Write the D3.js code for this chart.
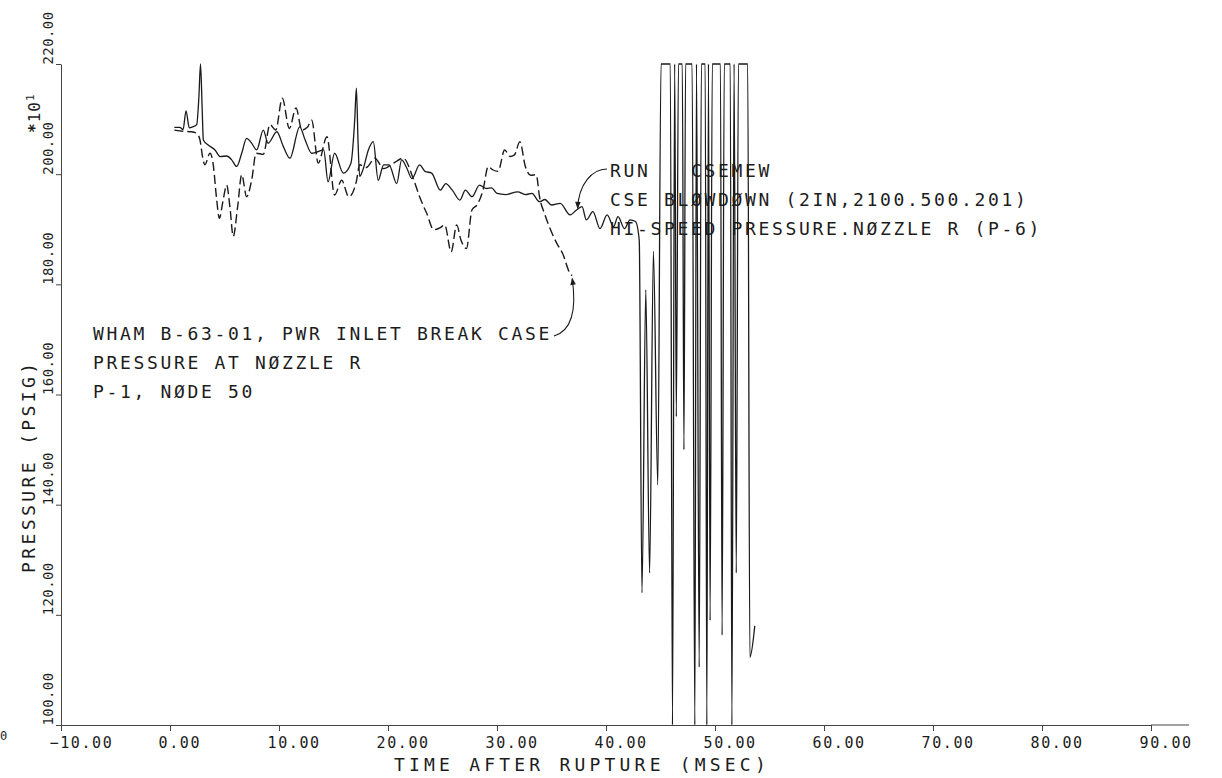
<!DOCTYPE html>
<html>
<head>
<meta charset="utf-8">
<script src="https://cdn.jsdelivr.net/npm/d3@7"></script>
<style>
  html, body { margin: 0; padding: 0; background: #fff; }
  svg { display: block; }
  text { font-family: "DejaVu Sans Mono", monospace; fill: #1c1c1c; white-space: pre; }
</style>
</head>
<body>
<svg id="chart" width="1222" height="778"></svg>
<script>
// Axis ticks (time in msec, pressure in psig x10)
const xTicks = [-10, 0, 10, 20, 30, 40, 50, 60, 70, 80, 90];
const yTicks = [100, 120, 140, 160, 180, 200, 220];

// CSE blowdown run (solid): smooth part, then the unstable oscillation
const cseTime = [
  0.4, 0.9, 1.2, 1.47, 1.77, 2.1, 2.45, 2.65, 2.8, 2.95, 3.06, 3.5, 4.13, 4.6, 5.2,
  5.66, 6.12, 6.58, 7.03, 7.5, 7.95, 8.56, 9.0, 9.8, 10.4, 11.0, 11.9, 12.4, 13.0,
  13.45, 14.1, 14.5, 15.1, 15.9, 16.6, 16.95, 17.1, 17.25, 17.4, 17.7, 18.2, 18.65,
  19.1, 19.6, 20.1, 20.8, 21.25, 21.7, 22.2, 22.9, 23.4, 24.0, 24.8, 25.3, 25.9,
  26.6, 27.1, 27.7, 28.4, 29.0, 29.5, 30.0, 30.8, 31.9, 32.6, 33.2, 33.9, 34.4,
  35.0, 35.8, 36.7, 37.3, 37.8, 38.2, 38.8, 39.45, 40.1, 40.7, 41.1, 41.7, 42.2,
  42.7, 43.05, 43.3, 43.65, 44.0, 44.35, 44.75, 45.05, 45.6, 45.9, 46.1, 46.3, 46.45,
  46.65, 47.0, 47.15, 47.3, 47.9, 48.15, 48.3, 48.55, 48.75, 49.1, 49.25, 49.4,
  49.55, 49.75, 50.5, 50.65, 50.85, 51.4, 51.55, 51.75, 51.95, 52.15, 53.0, 53.2, 53.65
];
const csePressure = [
  208.5, 208.5, 208.1, 211.5, 208.4, 208.6, 209, 214, 220, 212, 206.2, 205.3, 204.4, 203.2, 203.3,
  202.6, 201.4, 203.8, 206.5, 205.6, 204.4, 208, 205.6, 207.7, 205, 202.9, 208.6, 206.2, 203.8,
  204, 204.4, 198.6, 203.8, 200.2, 202, 210, 215.6, 206, 199.6, 200.8, 204.4, 205.9,
  198.9, 201.7, 201.7, 198.3, 202.6, 201.2, 199.2, 201.7, 200.5, 200.2, 197.1, 198.3, 197.1,
  195.3, 197.1, 195.9, 198, 197.4, 197.5, 196.5, 196.3, 196.8, 196.3, 196.5, 195, 195.4,
  194.4, 194.7, 192.6, 193.5, 194.1, 191.7, 193.2, 190.1, 192.6, 190.5, 192.3, 190.1, 191.7,
  191.4, 188, 124, 179, 127.6, 186, 143.6, 220, 220, 220, 100, 220, 156,
  220, 220, 150, 220, 220, 100, 220, 110.5, 220, 220, 100, 220,
  119, 220, 220, 116.3, 220, 220, 100, 220, 127.6, 220, 220, 112.3, 118
];

// WHAM B-63-01 reference case (dashed)
const whamTime = [
  0.4, 1.2, 2.0, 2.45, 2.75, 3.0, 3.2, 3.67, 3.97, 4.25, 4.53, 4.85, 5.2, 5.5, 5.8,
  6.2, 6.58, 7.03, 7.5, 7.9, 8.56, 9.17, 9.7, 10.3, 10.95, 11.56, 12.1, 12.6, 13.0,
  13.6, 14.4, 15.1, 15.75, 16.4, 17.1, 17.4, 18.0, 18.8, 19.6, 20.5, 21.4, 22.3,
  22.9, 23.55, 24.2, 24.8, 25.2, 25.8, 26.3, 26.7, 27.2, 27.7, 28.2, 28.7, 29.2,
  29.6, 30.1, 30.7, 31.2, 31.6, 32.1, 32.6, 33.1, 33.6, 33.9, 34.4, 35.0, 35.5,
  36.0, 36.7, 36.9
];
const whamPressure = [
  208, 207.8, 207.7, 207.4, 206.2, 203, 201.7, 203.8, 201.7, 196, 192, 195, 198, 194, 188.7,
  194, 199.9, 195.9, 199, 203.8, 203.6, 209, 208, 213.8, 208.3, 212, 208, 208.5, 209.8,
  202, 206.8, 196.2, 198.9, 195.9, 198.7, 201.7, 201.2, 202.9, 201, 202, 202.9, 199.3,
  195.9, 192.9, 189.9, 190.3, 190.8, 185.9, 190.8, 188, 186.5, 193.5, 194.5, 197, 201.4,
  200.8, 200.5, 204.4, 203.2, 203.5, 205.9, 201.4, 199.8, 199.9, 195.9, 192.6, 189.5, 187.4,
  185.7, 182, 181.6
];

const cseLabel = [
  "RUN   CSEMEW",
  "CSE BLØWDØWN (2IN,2100.500.201)",
  "HI-SPEED PRESSURE.NØZZLE R (P-6)"
];
const whamLabel = [
  "WHAM B-63-01, PWR INLET BREAK CASE",
  "PRESSURE AT NØZZLE R",
  "P-1, NØDE 50"
];

const svg = d3.select("#chart");
svg.append("rect").attr("width", 1222).attr("height", 778).attr("fill", "#fff");

const x = d3.scaleLinear().domain([-10, 90]).range([61, 1151]);
const y = d3.scaleLinear().domain([100, 220]).range([725, 64]);

const ink = "#1a1a1a";
const axisInk = "#444";

// ---- x axis ----
const gx = svg.append("g").attr("transform", `translate(0,${y(100)})`)
  .call(d3.axisBottom(x).tickValues(xTicks).tickSize(6).tickSizeOuter(0)
    .tickFormat(d3.format(".2f")));
gx.select(".domain").attr("stroke", axisInk).attr("stroke-width", 1);
gx.selectAll(".tick line").attr("stroke", axisInk).attr("stroke-width", 1);
gx.selectAll(".tick text")
  .attr("text-anchor", "start").attr("x", -12).attr("y", 23).attr("dy", 0)
  .attr("fill", ink).style("font-size", "15px").style("letter-spacing", "1.6px")
  .style("font-family", "'DejaVu Sans Mono', monospace");
// the plotter runs the time axis a little past the last tick
svg.append("line")
  .attr("x1", x(90)).attr("x2", x(93.5)).attr("y1", y(100)).attr("y2", y(100))
  .attr("stroke", axisInk).attr("stroke-width", 1);

// ---- y axis ----
const gy = svg.append("g").attr("transform", `translate(${x(-10)},0)`)
  .call(d3.axisLeft(y).tickValues(yTicks).tickSize(5).tickSizeOuter(0)
    .tickFormat(d3.format(".2f")));
gy.select(".domain").attr("stroke", axisInk).attr("stroke-width", 1);
gy.selectAll(".tick line").attr("stroke", axisInk).attr("stroke-width", 1);
gy.selectAll(".tick text")
  .attr("text-anchor", "start").attr("x", 0).attr("y", 0).attr("dy", 0)
  .attr("transform", "translate(-8,0) rotate(-90)")
  .attr("fill", ink).style("font-size", "14px").style("letter-spacing", "0.4px")
  .style("font-family", "'DejaVu Sans Mono', monospace");

// axis titles
svg.append("text")
  .attr("x", 394).attr("y", 771)
  .style("font-size", "18px").style("letter-spacing", "4.2px")
  .text("TIME AFTER RUPTURE (MSEC)");
svg.append("text")
  .attr("transform", "translate(35,573) rotate(-90)")
  .style("font-size", "18px").style("letter-spacing", "3.4px")
  .text("PRESSURE (PSIG)");
const mult = svg.append("text")
  .attr("transform", "translate(40,133) rotate(-90)")
  .style("font-size", "16px").style("letter-spacing", "1px");
mult.append("tspan").style("font-weight", "bold").text("*");
mult.append("tspan").text("10");
mult.append("tspan").attr("dy", -6).style("font-size", "11px").text("1");

// page edge fragment
svg.append("text").attr("x", 0).attr("y", 740).style("font-size", "12px").text("0");

// ---- data curves ----
svg.append("clipPath").attr("id", "plotClip")
  .append("rect")
  .attr("x", x(-10)).attr("y", y(220) - 1)
  .attr("width", x(90) - x(-10)).attr("height", y(100) - y(220) + 2);

const line = d3.line()
  .x(d => x(d[0])).y(d => y(d[1]))
  .curve(d3.curveMonotoneX);

const plot = svg.append("g").attr("clip-path", "url(#plotClip)");

plot.append("path")
  .datum(d3.zip(whamTime, whamPressure))
  .attr("d", line)
  .attr("fill", "none").attr("stroke", ink).attr("stroke-width", 1.4)
  .attr("stroke-dasharray", "9,4");

plot.append("path")
  .datum(d3.zip(cseTime, csePressure))
  .attr("d", line)
  .attr("fill", "none").attr("stroke", ink).attr("stroke-width", 1.3)
  .attr("stroke-linejoin", "round");

// ---- annotations ----
const noteStyle = sel => sel.style("font-size", "18px").style("letter-spacing", "2.66px");

svg.append("g").selectAll("text").data(cseLabel).join("text")
  .attr("x", 610).attr("y", (d, i) => 177 + i * 29)
  .attr("xml:space", "preserve")
  .call(noteStyle).text(d => d);

svg.append("g").selectAll("text").data(whamLabel).join("text")
  .attr("x", 93).attr("y", (d, i) => 340 + i * 29)
  .call(noteStyle).text(d => d);

// arrowhead marker
svg.append("defs").append("marker")
  .attr("id", "arrow").attr("viewBox", "0 0 10 10")
  .attr("refX", 9).attr("refY", 5)
  .attr("markerWidth", 9).attr("markerHeight", 7)
  .attr("markerUnits", "userSpaceOnUse")
  .attr("orient", "auto")
  .append("path").attr("d", "M0,1 L10,5 L0,9 Z").attr("fill", ink);

// leader from the CSE label to the solid curve
const tip1 = [x(37.4), y(194) + 1];
svg.append("path")
  .attr("d", `M607,169 C592,169 ${tip1[0] + 1},${tip1[1] - 24} ${tip1[0]},${tip1[1]}`)
  .attr("fill", "none").attr("stroke", ink).attr("stroke-width", 1.1)
  .attr("marker-end", "url(#arrow)");

// leader from the WHAM label to the end of the dashed curve
const tip2 = [x(36.9), y(181.6) + 3];
svg.append("path")
  .attr("d", `M554,336 C571,331 577,312 ${tip2[0]},${tip2[1]}`)
  .attr("fill", "none").attr("stroke", ink).attr("stroke-width", 1.1)
  .attr("marker-end", "url(#arrow)");
</script>
</body>
</html>
